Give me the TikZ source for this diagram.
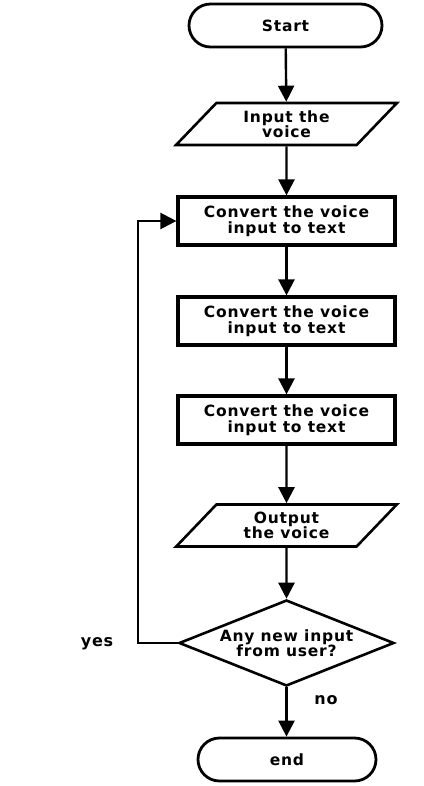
\documentclass[tikz,border=0pt]{standalone}
\usepackage{fontspec}
\setmainfont[LetterSpace=5]{DejaVu Sans}
\usetikzlibrary{shapes.geometric,shapes.misc,arrows.meta}
\begin{document}
\begin{tikzpicture}[x=1pt,y=-1pt,
  txt/.style={align=center,font=\bfseries\fontsize{15.5}{15.5}\selectfont},
  term/.style={txt,draw,rounded rectangle,line width=2.8pt,minimum width=193pt,minimum height=43pt,inner sep=0pt},
  io/.style={txt,draw,trapezium,trapezium left angle=48,trapezium right angle=132,trapezium stretches=true,line width=2.6pt,minimum width=221pt,minimum height=42pt,inner sep=0pt},
  proc/.style={txt,draw,rectangle,line width=3.2pt,minimum width=217pt,minimum height=48pt,inner sep=0pt},
  dec/.style={txt,draw,diamond,aspect=2.47,line width=2.6pt,minimum width=215pt,minimum height=86pt,inner sep=0pt},
  arr/.style={line width=2.4pt,-{Triangle[width=16pt,length=16pt]}},
  lbl/.style={font=\bfseries\fontsize{16}{16}\selectfont}]
\useasboundingbox (0,0) rectangle (423,786);
\node[term] (start) at (285.5,25.5) {Start};
\node[io] (in) at (286.5,124) {Input the\\voice};
\node[proc] (p1) at (286.5,221) {Convert the voice\\input to text};
\node[proc] (p2) at (286.5,321) {Convert the voice\\input to text};
\node[proc] (p3) at (286.5,420) {Convert the voice\\input to text};
\node[io] (out) at (286.5,525.5) {Output\\ the voice};
\node[dec] (d) at (286.5,643) {Any new input\\from user?};
\node[term,minimum width=178pt] (end) at (287,759.5) {end};
\node[lbl] (yes) at (97,644) {yes};
\node[lbl] (no) at (326,700) {no};
\coordinate (lc) at (138,643);
\draw[arr] (start) -- (in);
\draw[arr] (in) -- (p1);
\draw[arr] (p1) -- (p2);
\draw[arr] (p2) -- (p3);
\draw[arr] (p3) -- (out);
\draw[arr] (out) -- (d);
\draw[arr] (d.south) -- (end.north -| d.south);
\draw[arr] (d.west) -- (lc) |- (p1.west);
\end{tikzpicture}
\end{document}
